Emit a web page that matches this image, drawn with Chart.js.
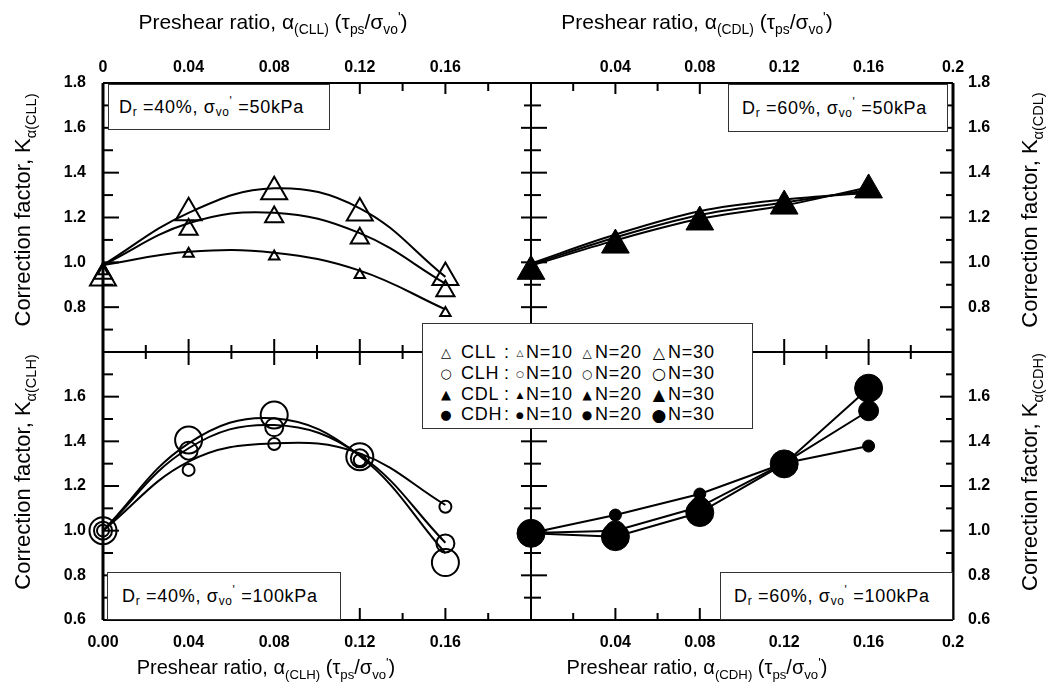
<!DOCTYPE html>
<html><head><meta charset="utf-8">
<script src="https://cdn.jsdelivr.net/npm/chart.js@4.4.1/dist/chart.umd.min.js"></script>
<style>
html,body{margin:0;padding:0;background:#fff;}
#wrap{position:relative;width:1053px;height:693px;overflow:hidden;background:#fff;font-family:"Liberation Sans",Arial,sans-serif;color:#000;}
canvas{position:absolute;left:0;top:0;}
.t{position:absolute;white-space:nowrap;line-height:24px;}
.xt{font-size:21px;transform:translateX(-50%);}
.yt{font-size:22px;transform:translate(-50%,-50%) rotate(-90deg);}
.sub{font-size:0.66em;position:relative;top:0.38em;}
.sup{font-size:0.66em;position:relative;top:-0.5em;}
.box{position:absolute;background:#fff;border:1px solid #333;box-sizing:border-box;font-size:18px;letter-spacing:0.7px;display:flex;align-items:center;white-space:nowrap;}
.lg{position:absolute;white-space:nowrap;font-size:18px;line-height:20px;letter-spacing:0.8px;}
.sym{position:absolute;font-family:"DejaVu Sans",sans-serif;line-height:20px;transform:translate(-50%,-50%);}
</style></head><body>
<div id="wrap">
<canvas id="cTL" width="1053" height="693"></canvas>
<canvas id="cTR" width="1053" height="693"></canvas>
<canvas id="cBL" width="1053" height="693"></canvas>
<canvas id="cBR" width="1053" height="693"></canvas>

<div class="t xt" style="left:273px;top:10px;">Preshear ratio, α<span class="sub">(CLL)</span> (τ<span class="sub">ps</span>/σ<span class="sub">vo</span><span class="sup">'</span>)</div>
<div class="t xt" style="left:697px;top:10px;">Preshear ratio, α<span class="sub">(CDL)</span> (τ<span class="sub">ps</span>/σ<span class="sub">vo</span><span class="sup">'</span>)</div>
<div class="t xt" style="left:266px;top:655px;font-size:20px;">Preshear ratio, α<span class="sub">(CLH)</span> (τ<span class="sub">ps</span>/σ<span class="sub">vo</span><span class="sup">'</span>)</div>
<div class="t xt" style="left:697px;top:655px;font-size:20px;">Preshear ratio, α<span class="sub">(CDH)</span> (τ<span class="sub">ps</span>/σ<span class="sub">vo</span><span class="sup">'</span>)</div>

<div class="t yt" style="left:24px;top:210px;">Correction factor, K<span class="sub">α(CLL)</span></div>
<div class="t yt" style="left:24px;top:472px;">Correction factor, K<span class="sub">α(CLH)</span></div>
<div class="t yt" style="left:1031px;top:210px;">Correction factor, K<span class="sub">α(CDL)</span></div>
<div class="t yt" style="left:1031px;top:472px;">Correction factor, K<span class="sub">α(CDH)</span></div>

<div class="box" style="left:108px;top:84px;width:222px;height:46px;padding-left:10px;">D<span class="sub">r</span>&nbsp;=40%, σ<span class="sub">vo</span><span class="sup">'</span>&nbsp;=50kPa</div>
<div class="box" style="left:728px;top:84px;width:220px;height:48px;padding-left:13px;">D<span class="sub">r</span>&nbsp;=60%, σ<span class="sub">vo</span><span class="sup">'</span>&nbsp;=50kPa</div>
<div class="box" style="left:107px;top:572px;width:234px;height:48px;padding-left:14px;">D<span class="sub">r</span>&nbsp;=40%, σ<span class="sub">vo</span><span class="sup">'</span>&nbsp;=100kPa</div>
<div class="box" style="left:720px;top:572px;width:233px;height:48px;padding-left:13px;">D<span class="sub">r</span>&nbsp;=60%, σ<span class="sub">vo</span><span class="sup">'</span>&nbsp;=100kPa</div>

<div class="box" id="legend" style="left:422px;top:323px;width:331px;height:106px;"></div>
</div>

<script>
// ---------------- data ----------------
const preshearRatio = [0, 0.04, 0.08, 0.12, 0.16];

// CLL : Dr=40%, σvo'=50kPa  (open triangles + fitted curves)
const cllN10 = [0.96, 1.038, 1.026, 0.944, 0.774];
const cllN20 = [0.95, 1.147, 1.202, 1.107, 0.872];
const cllN30 = [0.93, 1.221, 1.315, 1.220, 0.932];
const cllFitN10 = [0.988, 1.047, 1.043, 0.963, 0.790];
const cllFitN20 = [0.988, 1.174, 1.221, 1.130, 0.905];
const cllFitN30 = [0.988, 1.221, 1.330, 1.241, 0.935];

// CDL : Dr=60%, σvo'=50kPa  (filled triangles)
const cdlN10 = [0.980, 1.110, 1.210, 1.270, 1.310];
const cdlN20 = [0.975, 1.095, 1.195, 1.260, 1.318];
const cdlN30 = [0.960, 1.077, 1.180, 1.251, 1.323];
const cdlFitN10 = [0.995, 1.124, 1.228, 1.280, 1.310];
const cdlFitN20 = [0.990, 1.111, 1.211, 1.267, 1.322];
const cdlFitN30 = [0.985, 1.098, 1.194, 1.254, 1.335];

// CLH : Dr=40%, σvo'=100kPa  (open circles + fitted curves)
const clhN10 = [1.0, 1.272, 1.388, 1.316, 1.107];
const clhN20 = [1.0, 1.358, 1.463, 1.324, 0.943];
const clhN30 = [1.0, 1.406, 1.518, 1.331, 0.857];
const clhFitN10 = [1.0, 1.309, 1.391, 1.346, 1.115];
const clhFitN20 = [1.0, 1.369, 1.473, 1.339, 0.946];
const clhFitN30 = [1.0, 1.391, 1.503, 1.334, 0.899];

// CDH : Dr=60%, σvo'=100kPa  (filled circles, straight segments)
const cdhN10 = [0.990, 1.070, 1.164, 1.302, 1.379];
const cdhN20 = [0.990, 1.000, 1.107, 1.302, 1.537];
const cdhN30 = [0.988, 0.973, 1.081, 1.299, 1.638];

// tick labels
const xTicksTopLeft = ['0', '0.04', '0.08', '0.12', '0.16', ''];
const xTicksTopRight = ['', '0.04', '0.08', '0.12', '0.16', '0.2'];
const xTicksBottomLeft = ['0.00', '0.04', '0.08', '0.12', '0.16', ''];
const xTicksBottomRight = ['', '0.04', '0.08', '0.12', '0.16', '0.2'];
const yTicksTop = ['', '0.8', '1.0', '1.2', '1.4', '1.6', '1.8'];
const yTicksBottom = ['0.6', '0.8', '1.0', '1.2', '1.4', '1.6', ''];

// legend
const legendGroups = ['CLL', 'CLH', 'CDL', 'CDH'];
const legendSymbols = ['△', '○', '▲', '●'];
const legendCycles = ['N=10', 'N=20', 'N=30'];

// ---------------- legend (HTML text) ----------------
(function buildLegend(){
  const wrap = document.getElementById('wrap');
  const rowY = [352, 373, 393.5, 414];
  const symSize = [[13,9,12,16],[13,9,12,16],[13,9,12,16],[13,9,12,17]];
  legendGroups.forEach((g, r) => {
    const cy = rowY[r];
    const addSym = (cx, size) => {
      const s = document.createElement('span');
      s.className = 'sym'; s.textContent = legendSymbols[r];
      s.style.left = cx + 'px'; s.style.top = (cy + 1) + 'px'; s.style.fontSize = size + 'px';
      wrap.appendChild(s);
    };
    const addTxt = (x, txt) => {
      const s = document.createElement('span');
      s.className = 'lg'; s.textContent = txt;
      s.style.left = x + 'px'; s.style.top = (cy - 10) + 'px';
      wrap.appendChild(s);
    };
    addSym(446, symSize[r][0]);
    addTxt(461, g);
    addTxt(504, ':');
    const symX = [520, 587, 659], txtX = [526, 595, 668];
    legendCycles.forEach((c, i) => { addSym(symX[i], symSize[r][i+1]); addTxt(txtX[i], c); });
  });
})();

// ---------------- charts ----------------
Chart.defaults.font.family = '"Liberation Sans", Arial, sans-serif';
Chart.defaults.color = '#000';

function xy(xs, ys){ return xs.map((x, i) => ({x: x, y: ys[i]})); }
function markerSet(ys, style, r, filled, bw){
  return {data: xy(preshearRatio, ys), showLine: false, pointStyle: style,
    pointRadius: r, pointHoverRadius: r, pointBorderWidth: bw, pointBorderColor: '#000',
    pointBackgroundColor: filled ? '#000' : 'rgba(255,255,255,0)', clip: false, order: 0};
}
function lineSet(ys, tension){
  return {data: xy(preshearRatio, ys), showLine: true, borderColor: '#000', borderWidth: 2,
    pointRadius: 0, pointHoverRadius: 0, tension: tension, fill: false, clip: false, order: 1};
}

const frameTicks = {
  id: 'frameTicks',
  beforeDatasetsDraw(chart, args, o){
    const ctx = chart.ctx, a = chart.chartArea, sx = chart.scales.x, sy = chart.scales.y;
    ctx.save();
    ctx.strokeStyle = '#000';
    ctx.lineCap = 'butt';
    const line = (x1, y1, x2, y2, w) => { ctx.lineWidth = w; ctx.beginPath(); ctx.moveTo(x1, y1); ctx.lineTo(x2, y2); ctx.stroke(); };
    const e = o.edges;
    const xv = []; for (let i = 1; i < 10; i++) xv.push({v: i * 0.02, major: i % 2 === 0});
    const yv = []; for (let i = 1; i < 12; i++) yv.push({v: 0.6 + i * 0.1, major: i % 2 === 0});
    if (e.top){
      line(a.left, a.top, a.right, a.top, 2);
      xv.forEach(t => { const p = sx.getPixelForValue(t.v); const L = t.major ? 11 : 8; line(p, a.top, p, a.top + L, 2); });
    }
    if (e.bottom){
      line(a.left, a.bottom, a.right, a.bottom, 2);
      xv.forEach(t => { const p = sx.getPixelForValue(t.v);
        if (e.bottom === 'cross'){ const L = t.major ? 13 : 7; line(p, a.bottom - L, p, a.bottom + L, 2); }
        else { const L = t.major ? 12 : 7; line(p, a.bottom, p, a.bottom - L, 2); } });
    }
    if (e.left){
      line(a.left, a.top, a.left, a.bottom, 3);
      yv.forEach(t => { const p = sy.getPixelForValue(t.v); const L = t.major ? 16 : 10; line(a.left, p, a.left + L, p, 2); });
    }
    if (e.right){
      if (e.right === 'cross'){
        line(a.right, a.top, a.right, a.bottom, 2);
        yv.forEach(t => { const p = sy.getPixelForValue(t.v); const L1 = t.major ? 10 : 7, L2 = t.major ? 16 : 10; line(a.right - L1, p, a.right + L2, p, 2); });
      } else {
        line(a.right, a.top, a.right, a.bottom, 3);
        yv.forEach(t => { const p = sy.getPixelForValue(t.v); const L = t.major ? 13 : 7; line(a.right, p, a.right - L, p, 2); });
      }
    }
    ctx.restore();
  }
};

function makePanel(id, c){
  new Chart(document.getElementById(id), {
    type: 'scatter',
    data: {datasets: c.datasets},
    plugins: [frameTicks],
    options: {
      responsive: false, animation: false, events: [],
      layout: {padding: c.padding},
      plugins: {legend: {display: false}, tooltip: {enabled: false}, frameTicks: {edges: c.edges}},
      scales: {
        x: {type: 'linear', position: c.xPos, min: 0, max: 0.2,
          afterFit: s => { s.height = c.xSize; },
          grid: {display: false, drawTicks: false}, border: {display: false},
          ticks: {stepSize: 0.04, autoSkip: false, maxRotation: 0, minRotation: 0, padding: c.xPad,
            font: {size: 16, weight: 'bold'}, callback: (v, i) => c.xLabels[i] ?? ''}},
        y: {type: 'linear', position: c.yPos, min: 0.6, max: 1.8,
          afterFit: s => { s.width = c.ySize; },
          grid: {display: false, drawTicks: false}, border: {display: false},
          ticks: {stepSize: 0.2, autoSkip: false, padding: c.yPad,
            font: {size: 16, weight: 'bold'}, callback: (v, i) => c.yLabels[i] ?? ''}}
      }
    }
  });
}

makePanel('cTL', {
  padding: {left: 0, top: 0, right: 522, bottom: 341},
  xPos: 'top', xSize: 83, xPad: 6, xLabels: xTicksTopLeft,
  yPos: 'left', ySize: 103, yPad: 17, yLabels: yTicksTop,
  edges: {top: 'in', left: 'in', right: 'cross', bottom: 'cross'},
  datasets: [
    markerSet(cllN10, 'triangle', 6, false, 2),
    markerSet(cllN20, 'triangle', 10.5, false, 2),
    markerSet(cllN30, 'triangle', 15, false, 2),
    lineSet(cllFitN10, 0.4), lineSet(cllFitN20, 0.4), lineSet(cllFitN30, 0.4)
  ]
});
makePanel('cTR', {
  padding: {left: 531, top: 0, right: 0, bottom: 341},
  xPos: 'top', xSize: 83, xPad: 6, xLabels: xTicksTopRight,
  yPos: 'right', ySize: 100, yPad: 15, yLabels: yTicksTop,
  edges: {top: 'in', right: 'in', bottom: 'cross'},
  datasets: [
    markerSet(cdlN10, 'triangle', 7, true, 1),
    markerSet(cdlN20, 'triangle', 11, true, 1),
    markerSet(cdlN30, 'triangle', 16, true, 1),
    lineSet(cdlFitN10, 0.35), lineSet(cdlFitN20, 0.35), lineSet(cdlFitN30, 0.35)
  ]
});
makePanel('cBL', {
  padding: {left: 0, top: 352, right: 522, bottom: 0},
  xPos: 'bottom', xSize: 73, xPad: 13, xLabels: xTicksBottomLeft,
  yPos: 'left', ySize: 103, yPad: 17, yLabels: yTicksBottom,
  edges: {bottom: 'in', left: 'in', right: 'cross'},
  datasets: [
    markerSet(clhN10, 'circle', 6, false, 2),
    markerSet(clhN20, 'circle', 9, false, 2),
    markerSet(clhN30, 'circle', 13.5, false, 2),
    lineSet(clhFitN10, 0.4), lineSet(clhFitN20, 0.4), lineSet(clhFitN30, 0.4)
  ]
});
makePanel('cBR', {
  padding: {left: 531, top: 352, right: 0, bottom: 0},
  xPos: 'bottom', xSize: 73, xPad: 13, xLabels: xTicksBottomRight,
  yPos: 'right', ySize: 100, yPad: 15, yLabels: yTicksBottom,
  edges: {bottom: 'in', right: 'in'},
  datasets: [
    markerSet(cdhN10, 'circle', 6, true, 1),
    markerSet(cdhN20, 'circle', 10, true, 1),
    markerSet(cdhN30, 'circle', 14, true, 1),
    lineSet(cdhN10, 0), lineSet(cdhN20, 0), lineSet(cdhN30, 0)
  ]
});
</script>
</body></html>
